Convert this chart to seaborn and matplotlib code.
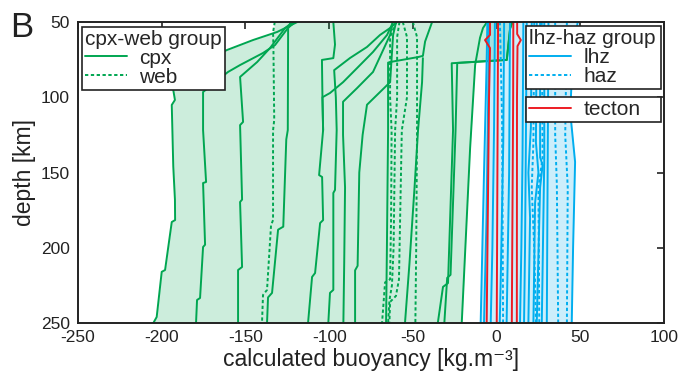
import numpy as np
import pandas as pd
import matplotlib
matplotlib.use("Agg")
import matplotlib.pyplot as plt
import seaborn as sns
from matplotlib.lines import Line2D

sns.set_theme(style="white")
plt.rcParams["font.family"] = ["Liberation Sans", "DejaVu Sans"]

x_ticks = [-250, -200, -150, -100, -50, 0, 50, 100]
y_ticks = [50, 100, 150, 200, 250]

# each line: list of (buoyancy, depth) points
cpx_lines = [
    [(-119, 50), (-131, 56.6), (-145.5, 62), (-161, 68.6), (-193, 85), (-193.1, 95.2), (-192.1, 101.8),
     (-194, 105.1), (-193.1, 146), (-192.1, 168), (-192, 181.6), (-194, 182.9), (-198, 214.8),
     (-200, 216), (-203, 246), (-205, 250)],
    [(-120.4, 50), (-124.6, 54), (-132.3, 65.3), (-139.5, 70.6), (-153.2, 78.6), (-160.4, 83.2),
     (-175.3, 96.5), (-175.3, 121.8), (-173.5, 156.3), (-175.3, 157), (-174.1, 198), (-175.3, 199.5),
     (-177.1, 233.4), (-178.9, 234.7), (-179.5, 250)],
    [(-121.6, 50), (-126.3, 54), (-135.3, 67.3), (-143, 76.6), (-153.2, 86.5), (-151.4, 116.4),
     (-153.2, 118.5), (-152, 168), (-153.2, 169.6), (-152, 212.8), (-154.4, 214.8), (-154.4, 250)],
    [(-123, 50), (-124.5, 54), (-124.7, 121.8), (-125.6, 128), (-127.4, 186), (-130.5, 188),
     (-134.1, 230), (-136.5, 233), (-137.1, 250)],
    [(-97.5, 50), (-96.5, 65), (-97.5, 74), (-104.3, 75.2), (-104, 100), (-103.6, 121.8), (-106, 151.7),
     (-104.2, 153), (-103.6, 181.6), (-105.4, 183.6), (-108.4, 216.8), (-110.2, 219.4), (-112.6, 250)],
    [(-59.4, 50), (-63.6, 54), (-69.6, 58.6), (-77.4, 66.6), (-87.5, 73.9), (-97, 82), (-96, 100),
     (-95.5, 121.8), (-96.5, 161.6), (-97.5, 163.6), (-97.5, 228), (-99.5, 230), (-100.5, 250)],
    [(-62, 50), (-63.6, 58.6), (-73.8, 83.2), (-83.3, 93.9), (-91.7, 103), (-91.7, 125), (-90.5, 160),
     (-91, 210), (-91.5, 250)],
    [(-60, 50), (-61.8, 58.6), (-63.6, 90), (-77.4, 105), (-80, 125), (-82, 150), (-83, 212),
     (-84.5, 215), (-84.5, 250)],
    [(-61.8, 50), (-65.4, 58.6), (-73.8, 69.9), (-83.3, 80.6), (-91.7, 90), (-99.5, 97.2), (-104, 100),
     (-103.6, 121.8)],
    [(-38.5, 50), (-42.7, 63), (-44, 72.5), (-46.9, 73.3), (-63.6, 76.6), (-64.8, 77), (-64.8, 122),
     (-65.5, 200), (-66, 250)],
    [(-44, 74), (-44.5, 90), (-46.9, 121.8), (-49, 160), (-52, 210), (-54.7, 250)],
    [(9.5, 50), (9.1, 50.9), (8.1, 54.2), (6.1, 75.2), (-26.8, 77.4), (-26, 121.8), (-29, 223.5),
     (-32, 226), (-35.1, 250)],
    [(9.5, 50), (8.1, 54.2), (6.1, 75.2), (-23.5, 77.2), (-24.5, 122), (-27.5, 218), (-29.5, 220),
     (-31.2, 250)],
    [(-5.7, 50), (-8.1, 54), (-9.9, 60.5), (-12.8, 78.5), (-15.8, 133.7), (-20.8, 250)],
]

web_lines = [
    [(-132.5, 50), (-133.5, 57), (-133.3, 65), (-132.8, 115), (-133.5, 122), (-133.5, 181.6),
     (-134.7, 185), (-137.1, 228), (-139.5, 231.4), (-140.1, 250)],
    [(-60, 50), (-63.6, 60), (-63.6, 100), (-62.7, 122), (-63, 180), (-63.6, 221), (-66.6, 223),
     (-68.4, 250)],
    [(-58, 50), (-59.4, 60), (-59.4, 100), (-60.6, 122), (-61.5, 200), (-62.5, 225), (-64, 235),
     (-64.8, 250)],
    [(-56, 50), (-53.5, 60), (-53.5, 100), (-56.6, 122), (-58.3, 221), (-60.1, 232), (-63.6, 236),
     (-64, 250)],
    [(-50, 50), (-47.5, 60), (-47.5, 122), (-48, 200), (-48.5, 250)],
]

lhz_lines = [
    [(-5.5, 50), (-6, 80), (-7.5, 150), (-9.5, 250)],
    [(-4.5, 50), (-5, 100), (-6, 180), (-7.5, 250)],
    [(-1, 50), (-1.5, 120), (-2.5, 200), (-3.5, 250)],
    [(4.5, 50), (4, 130), (2.5, 220), (1.9, 250)],
    [(8, 50), (7.5, 150), (6, 250)],
    [(16, 50), (15.5, 140), (14.8, 200), (14, 250)],
    [(18, 50), (17.5, 130), (17, 200), (16.4, 250)],
    [(21, 50), (20.5, 120), (19, 150), (20, 180), (19, 250)],
    [(24, 50), (23.5, 130), (25, 150), (23, 170), (22, 250)],
    [(26, 50), (26, 140), (27.5, 145), (26, 160), (24, 250)],
    [(28.5, 50), (28.5, 140), (27, 250)],
    [(31, 50), (30.5, 150), (30, 250)],
    [(48.5, 50), (45.7, 67), (44, 110), (46.9, 143), (45.7, 200), (44.9, 250)],
]

haz_lines = [
    [(2, 50), (3.3, 115), (3.9, 250)],
    [(35, 50), (35, 125), (36, 158), (36.8, 250)],
    [(42, 50), (41, 125), (42.5, 160), (42, 250)],
    [(22.5, 50), (22, 130), (21, 160), (22.5, 200), (23.5, 250)],
    [(27, 50), (27.5, 140), (25, 160), (25.5, 250)],
]

tecton_lines = [
    [(-3.9, 50), (-3.9, 58.6), (-6.9, 62), (-3.9, 67.3), (-4.5, 100), (-5.9, 250)],
    [(0.9, 50), (0.5, 150), (0.1, 250)],
    [(10, 50), (9.9, 100), (9.1, 250)],
    [(12.3, 50), (12.3, 58), (14.5, 62), (12.5, 66), (12.2, 100), (12.1, 250)],
]

GREEN = "#00a651"
BLUE = "#00aeef"
RED = "#ed1c24"
INK = "#222222"
DOT = (0, (1.7, 1.3))


def to_df(lines):
    rows = []
    for i, ln in enumerate(lines):
        for v, d in ln:
            rows.append((i, v, d))
    return pd.DataFrame(rows, columns=["line", "buoyancy", "depth"])


grid = np.linspace(50, 250, 4001)


def envelope(groups):
    arr = []
    for lines in groups:
        for ln in lines:
            d = [p[1] for p in ln]
            v = [p[0] for p in ln]
            arr.append(np.interp(grid, d, v, left=np.nan, right=np.nan))
    arr = np.array(arr)
    return np.nanmin(arr, axis=0), np.nanmax(arr, axis=0)


fig = plt.figure(figsize=(6.81, 3.73), dpi=100)
ax = fig.add_axes([78 / 681, 1 - 323 / 373, 586 / 681, 301 / 373])

lo, hi = envelope([cpx_lines, web_lines])
ax.fill_betweenx(grid, lo, hi, color=GREEN, alpha=0.2, lw=0, zorder=1)
lo, hi = envelope([lhz_lines, haz_lines])
ax.fill_betweenx(grid, lo, hi, color=BLUE, alpha=0.2, lw=0, zorder=1)

common = dict(x="buoyancy", y="depth", units="line", estimator=None, sort=False, ax=ax, legend=False)
sns.lineplot(data=to_df(cpx_lines), color=GREEN, lw=1.4, **common)
sns.lineplot(data=to_df(web_lines), color=GREEN, lw=1.4, linestyle=DOT, **common)
sns.lineplot(data=to_df(lhz_lines), color=BLUE, lw=1.4, **common)
sns.lineplot(data=to_df(haz_lines), color=BLUE, lw=1.4, linestyle=DOT, **common)
sns.lineplot(data=to_df(tecton_lines), color=RED, lw=1.4, **common)

ax.set_xlim(-250, 100)
ax.set_ylim(250, 50)
ax.set_xticks(x_ticks)
ax.set_yticks(y_ticks)
ax.set_xticklabels([str(t) for t in x_ticks])
ax.tick_params(direction="in", top=True, right=True, length=5, width=1.2, color=INK,
               labelsize=12.5, labelcolor=INK)
ax.tick_params(axis="x", pad=5)
ax.tick_params(axis="y", pad=6)
for s in ax.spines.values():
    s.set_color(INK)
    s.set_linewidth(1.4)
ax.set_xlabel("calculated buoyancy [kg.m\u207b\u00b3]", fontsize=16.5, color=INK)
ax.xaxis.label.set_va("baseline")
ax.xaxis.set_label_coords(0.5, (323 - 366) / 301)
ax.set_ylabel("depth [km]", fontsize=16.5, color=INK, labelpad=3)

leg_kw = dict(frameon=True, fancybox=False, fontsize=15, title_fontsize=15, borderpad=0.15,
              labelspacing=0.0, handletextpad=0.6, borderaxespad=0, handlelength=2.0,
              edgecolor=INK, framealpha=1, alignment="left")

h1 = [Line2D([], [], color=GREEN, lw=1.4), Line2D([], [], color=GREEN, lw=1.4, linestyle=DOT)]
leg1 = ax.legend(h1, ["cpx", "web"], title="cpx-web group", loc="upper left",
                 bbox_to_anchor=(0.007, 0.985), **leg_kw)
leg1.get_frame().set_linewidth(1.2)
ax.add_artist(leg1)

h2 = [Line2D([], [], color=BLUE, lw=1.4), Line2D([], [], color=BLUE, lw=1.4, linestyle=DOT)]
leg2 = ax.legend(h2, ["lhz", "haz"], title="lhz-haz group", loc="upper left", mode="expand",
                 bbox_to_anchor=(0.7645, 0.5, 0.2305, 0.487), **leg_kw)
leg2.get_frame().set_linewidth(1.2)
ax.add_artist(leg2)

h3 = [Line2D([], [], color=RED, lw=1.4)]
leg3 = ax.legend(h3, ["tecton"], loc="upper left", mode="expand",
                 bbox_to_anchor=(0.7645, 0.4, 0.2305, 0.351), **leg_kw)
leg3.get_frame().set_linewidth(1.2)

fig.text(10 / 681, 1 - 11 / 373, "B", fontsize=25, va="top", ha="left", color=INK)

fig.savefig("out.png", dpi=100)
